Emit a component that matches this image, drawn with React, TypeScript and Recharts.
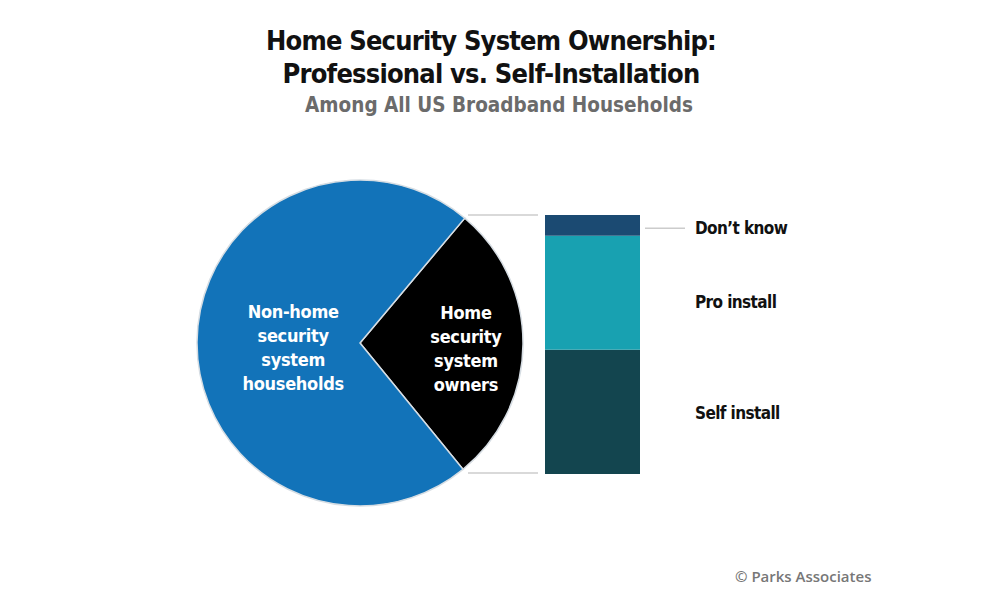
import { Bar, BarChart, Cell, LabelList, Pie, PieChart, XAxis, YAxis } from "recharts";

// pie: share of US broadband households (%)
const pieNames = ["Home security system owners", "Non-home security system households"];
const pieLabels = [
  ["Home", "security", "system", "owners"],
  ["Non-home", "security", "system", "households"],
];
const pieValues = [28, 72];
const pieColors = ["#000000", "#1273b9"];

// stacked bar: split of owners (%), bottom to top
const segNames = ["Self install", "Pro install", "Don’t know"];
const segKeys = ["self", "pro", "dk"];
const segValues = [48, 44, 8];
const segColors = ["#13454f", "#18a1b1", "#1b4a72"];

const FONT = "'Liberation Sans Narrow', 'DejaVu Sans Condensed', 'Open Sans', sans-serif";

const pieData = pieNames.map((name, i) => ({ name, value: pieValues[i], lines: pieLabels[i] }));
const barRow: Record<string, number | string> = { name: "owners" };
segKeys.forEach((k, i) => (barRow[k] = segValues[i]));
const barData = [barRow];

const RAD = Math.PI / 180;

function PieLabel(props: any) {
  const { cx, cy, midAngle, outerRadius, index, payload } = props;
  const r = outerRadius * (index === 0 ? 0.65 : 0.41);
  const x = cx + r * Math.cos(-midAngle * RAD);
  const y = cy + r * Math.sin(-midAngle * RAD) + 5;
  const lines: string[] = payload?.lines ?? pieData[index].lines;
  const lh = 24;
  const y0 = y - ((lines.length - 1) * lh) / 2;
  return (
    <text textAnchor="middle" fill="#fff" fontFamily={FONT} fontWeight={700} fontSize={18} letterSpacing={-0.3}>
      {lines.map((l, i) => (
        <tspan key={i} x={x} y={y0 + i * lh} dominantBaseline="central">
          {l}
        </tspan>
      ))}
    </text>
  );
}

// label nudges so text sits where the original placed it
const labelNudge = [1, 9, 3];

function segLabel(i: number) {
  return (props: any) => {
    const { x, y, width, height } = props;
    const right = Number(x) + Number(width);
    const mid = Number(y) + Number(height) / 2 + labelNudge[i];
    return (
      <g>
        {i === 2 ? <line x1={right + 5} x2={right + 45} y1={mid} y2={mid} stroke="#cccccc" strokeWidth={1.5} /> : null}
        <text
          x={right + 55}
          y={mid}
          dominantBaseline="central"
          fontFamily={FONT}
          fontWeight={700}
          fontSize={17}
          letterSpacing={-0.6}
          fill="#111"
        >
          {segNames[i]}
        </text>
      </g>
    );
  };
}

// bracket lines linking pie slice to the bar
function segShape(i: number) {
  return (props: any) => {
    const { x, y, width, height, fill } = props;
    const edgeY = i === 0 ? y + height - 1 : y;
    return (
      <g>
        <rect x={x} y={y} width={width} height={height} fill={fill} />
        {i === 0 || i === 2 ? (
          <line x1={x - 77} x2={x - 7} y1={edgeY} y2={edgeY} stroke="#cccccc" strokeWidth={1.5} />
        ) : null}
      </g>
    );
  };
}

export default function App() {
  return (
    <div style={{ position: "absolute", left: 0, top: 0, width: 1000, height: 595, background: "#fff", overflow: "hidden" }}>
      <div
        style={{
          position: "absolute",
          left: 0,
          top: 24,
          width: 982,
          textAlign: "center",
          fontFamily: FONT,
          fontWeight: 700,
          fontSize: 27,
          letterSpacing: -0.8,
          lineHeight: "33px",
          color: "#111",
        }}
      >
        Home Security System Ownership:
        <br />
        Professional vs. Self-Installation
      </div>
      <div
        style={{
          position: "absolute",
          left: 0,
          top: 93,
          width: 998,
          textAlign: "center",
          fontFamily: FONT,
          fontWeight: 700,
          fontSize: 20.5,
          color: "#6b6b6b",
        }}
      >
        Among All US Broadband Households
      </div>

      <div style={{ position: "absolute", left: 145, top: 128 }}>
        <PieChart width={420} height={420}>
          <Pie
            data={pieData}
            dataKey="value"
            nameKey="name"
            cx={210}
            cy={210}
            outerRadius={163}
            startAngle={50}
            endAngle={-310}
            stroke="#d6dde3"
            strokeWidth={1.5}
            label={PieLabel}
            labelLine={false}
            isAnimationActive={false}
          >
            {pieData.map((_, i) => (
              <Cell key={i} fill={pieColors[i]} />
            ))}
          </Pie>
        </PieChart>
      </div>

      <div style={{ position: "absolute", left: 445, top: 190 }}>
        <BarChart
          width={420}
          height={310}
          data={barData}
          margin={{ top: 25, bottom: 26, left: 100, right: 225 }}
          barCategoryGap={0}
        >
          <XAxis dataKey="name" hide />
          <YAxis hide domain={[0, 100]} />
          {segKeys.map((k, i) => (
            <Bar key={k} dataKey={k} stackId="a" fill={segColors[i]} shape={segShape(i)} isAnimationActive={false}>
              <LabelList dataKey={k} content={segLabel(i)} />
            </Bar>
          ))}
        </BarChart>
      </div>

      <div
        style={{
          position: "absolute",
          left: 735,
          top: 566,
          fontFamily: "'Open Sans', sans-serif",
          fontWeight: 600,
          fontSize: 15,
          color: "#777",
        }}
      >
        © Parks Associates
      </div>
    </div>
  );
}
